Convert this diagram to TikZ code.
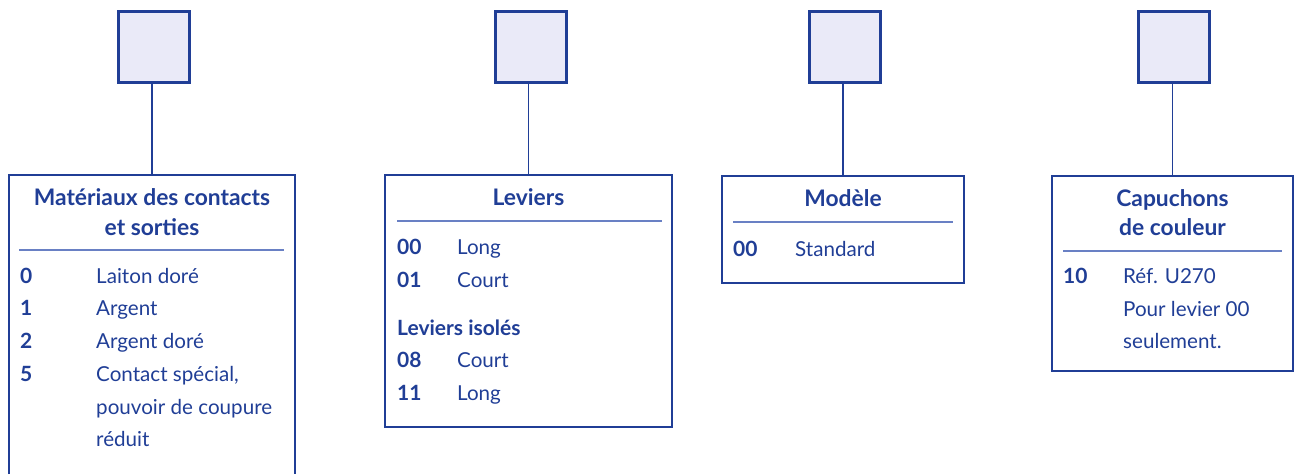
\documentclass[tikz,border=0pt]{standalone}
\usepackage{fontspec}
\setmainfont{Lato}
\usepackage{xcolor}
\definecolor{dblue}{RGB}{32,62,150}
\definecolor{lblue}{RGB}{105,128,196}
\definecolor{sqfill}{RGB}{234,234,248}

\begin{document}
\begin{tikzpicture}[x=1pt,y=-1pt,
	sqbox/.style={draw=dblue, fill=sqfill, line width=3pt, minimum size=71pt, inner sep=0pt},
	frame/.style={draw=dblue, line width=1.2pt},
	link/.style={draw=dblue, line width=1.2pt},
	sep/.style={draw=lblue, line width=1.5pt},
	title/.style={font=\bfseries\fontsize{22.8}{28}\selectfont, text=dblue, anchor=base, inner sep=0pt},
	code/.style={font=\bfseries\fontsize{21}{26}\selectfont, text=dblue, anchor=base west, inner sep=0pt},
	desc/.style={font=\fontsize{20.6}{26}\selectfont, text=dblue, anchor=base west, inner sep=0pt}]
	\useasboundingbox (0,0) rectangle (1301,474);

	% Materiaux
	\node (sq1) [sqbox] at (154,47) {};
	\coordinate (b1) at (152,175);
	\draw[frame] (9,474) |- (295,175) -- (295,474);
	\draw[link] (sq1.south -| b1) -- (b1);
	\node (t1a) [title] at (152,205) {Matériaux des contacts};
	\node (t1b) [title] at (152,235) {et sorties};
	\draw[sep] (19,250) -- (284,250);
	\node (c10) [code] at (20,283) {0};
	\node (d10) [desc] at (96,283) {Laiton doré};
	\node (c11) [code] at (20,315) {1};
	\node (d11) [desc] at (96,315) {Argent};
	\node (c12) [code] at (20,348) {2};
	\node (d12) [desc] at (96,348) {Argent doré};
	\node (c15) [code] at (20,381) {5};
	\node (d15) [desc] at (96,381) {Contact spécial,};
	\node (d15b) [desc] at (96,414) {pouvoir de coupure};
	\node (d15c) [desc] at (96,446) {réduit};

	% Leviers
	\node (sq2) [sqbox] at (531,47) {};
	\node (b2) [frame, minimum width=287pt, minimum height=252pt, inner sep=0pt] at (528.5,301) {};
	\draw[link] (sq2.south -| b2.north) -- (b2.north);
	\node (t2) [title] at (528.5,205) {Leviers};
	\draw[sep] (397,221) -- (662,221);
	\node (c200) [code] at (397,254) {00};
	\node (d200) [desc] at (457,254) {Long};
	\node (c201) [code] at (397,287) {01};
	\node (d201) [desc] at (457,287) {Court};
	\node (s2) [code] at (397,335) {Leviers isolés};
	\node (c208) [code] at (397,367) {08};
	\node (d208) [desc] at (457,367) {Court};
	\node (c211) [code] at (397,400) {11};
	\node (d211) [desc] at (457,400) {Long};

	% Modele
	\node (sq3) [sqbox] at (845,47) {};
	\node (b3) [frame, minimum width=242pt, minimum height=107pt, inner sep=0pt] at (843,229.5) {};
	\draw[link] (sq3.south -| b3.north) -- (b3.north);
	\node (t3) [title] at (843,206) {Modèle};
	\draw[sep] (733,222) -- (953,222);
	\node (c300) [code] at (733,256) {00};
	\node (d300) [desc] at (795,256) {Standard};

	% Capuchons
	\node (sq4) [sqbox] at (1174,47) {};
	\node (b4) [frame, minimum width=241pt, minimum height=195pt, inner sep=0pt] at (1172.5,273.5) {};
	\draw[link] (sq4.south -| b4.north) -- (b4.north);
	\node (t4a) [title] at (1172.5,206) {Capuchons};
	\node (t4b) [title] at (1172.5,235) {de couleur};
	\draw[sep] (1063,251) -- (1282,251);
	\node (c410) [code] at (1063,283) {10};
	\node (d410) [desc] at (1123,283) {Réf. U270};
	\node (d410b) [desc] at (1123,316) {Pour levier 00};
	\node (d410c) [desc] at (1123,348) {seulement.};
\end{tikzpicture}
\end{document}
